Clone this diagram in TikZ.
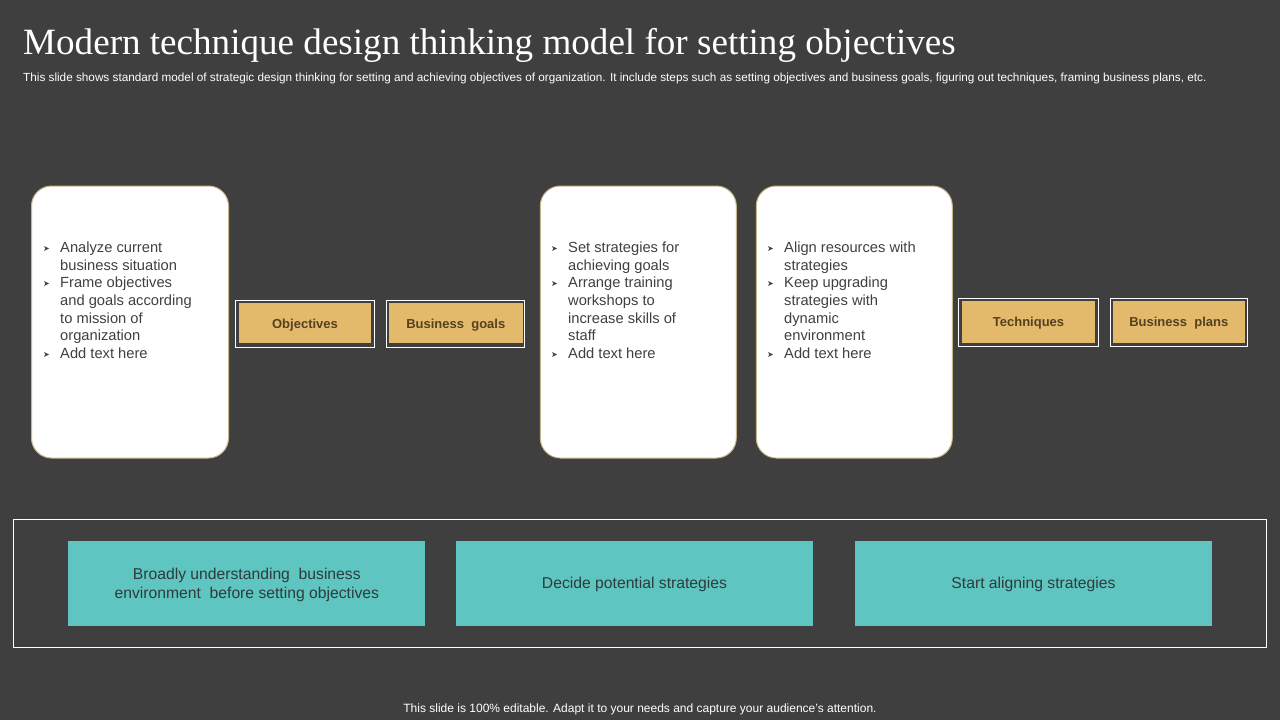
\documentclass[tikz,border=0pt]{standalone}
\usepackage{fontspec}
\setmainfont{Liberation Sans}
\newfontfamily\titlefont{Liberation Serif}
\newfontfamily\symfont{DejaVu Sans}
\definecolor{bg}{HTML}{3F3F3F}
\definecolor{cardedge}{HTML}{C8B68A}
\definecolor{goldfill}{HTML}{E3BA6C}
\definecolor{goldtext}{HTML}{55411F}
\definecolor{tealfill}{HTML}{5FC5C1}
\definecolor{tealtext}{HTML}{2E3B3B}
\definecolor{cardtext}{HTML}{404040}
\newcommand{\bul}{\makebox[17pt][l]{\raisebox{1.2pt}{\symfont\fontsize{8}{8}\selectfont ➤}}}
\newcommand{\ind}{\hspace*{17pt}}
\tikzset{
  card/.style={draw=cardedge, line width=1pt, fill=white, rounded corners=20pt, minimum width=197pt, minimum height=272pt, inner sep=0pt},
  cardtxt/.style={anchor=north west, align=left, inner sep=0pt, text=cardtext, font=\fontsize{14.7}{17.7}\selectfont},
  goldouter/.style={draw=white, line width=1pt, minimum height=47pt, inner sep=0pt},
  goldbox/.style={fill=goldfill, minimum width=132.5pt, minimum height=40pt, inner sep=0pt},
  goldlabel/.style={text=goldtext, font=\bfseries\fontsize{13}{15}\selectfont, inner sep=0pt},
  tealbox/.style={fill=tealfill, minimum width=357pt, minimum height=85pt, inner sep=0pt},
  teallabel/.style={text=tealtext, align=center, font=\fontsize{15.7}{19}\selectfont, inner sep=0pt},
}
\begin{document}
\begin{tikzpicture}[x=1pt,y=-1pt]
\fill[bg] (0,0) rectangle (1280,720);
\useasboundingbox (0,0) rectangle (1280,720);

\node[anchor=base west, inner sep=0pt, text=white, font=\titlefont\fontsize{37.1}{40}\selectfont] (title) at (23,54) {Modern technique design thinking model for setting objectives};
\node[anchor=base west, inner sep=0pt, text=white, font=\fontsize{11.75}{14}\selectfont] (subtitle) at (23,81) {This slide shows standard model of strategic design thinking for setting and achieving objectives of organization. It include steps such as setting objectives and business goals, figuring out techniques, framing business plans, etc.};

% cards
\node[card] (card1) at (130,322) {};
\node[card, minimum width=196pt] (card2) at (638.3,322) {};
\node[card, minimum width=196pt] (card3) at (854.3,322) {};

\node[cardtxt] (txt1) at (43,241.5) {\bul Analyze current\\ \ind business situation\\ \bul Frame objectives\\ \ind and goals according\\ \ind to mission of\\ \ind organization\\ \bul Add text here};
\node[cardtxt] (txt2) at (551,241.5) {\bul Set strategies for\\ \ind achieving goals\\ \bul Arrange training\\ \ind workshops to\\ \ind increase skills of\\ \ind staff\\ \bul Add text here};
\node[cardtxt] (txt3) at (767,241.5) {\bul Align resources with\\ \ind strategies\\ \bul Keep upgrading\\ \ind strategies with\\ \ind dynamic\\ \ind environment\\ \bul Add text here};

% gold tags
\node[goldouter, minimum width=138.5pt] (obj-frame) at (305.2,323.5) {};
\node[goldbox] (objectives) at (304.8,323) {};
\node[goldlabel] (objectives-text) at (305,325) {Objectives};
\node[goldouter, minimum width=138.3pt] (bg-frame) at (455.8,323.5) {};
\node[goldbox, minimum width=133.7pt] (busgoals) at (455.8,323) {};
\node[goldlabel] (busgoals-text) at (455.8,325) {Business~ goals};
\node[goldouter, minimum width=139.7pt, minimum height=47.7pt] (tech-frame) at (1028.8,322.8) {};
\node[goldbox, minimum width=133pt, minimum height=42pt] (techniques) at (1028.5,322) {};
\node[goldlabel] (techniques-text) at (1028.5,323.5) {Techniques};
\node[goldouter, minimum width=137.3pt, minimum height=47.7pt] (bp-frame) at (1179.3,322.8) {};
\node[goldbox, minimum width=132.3pt, minimum height=42pt] (busplans) at (1178.8,322) {};
\node[goldlabel] (busplans-text) at (1178.8,323.5) {Business~ plans};

% bottom frame
\node[draw=white, line width=1pt, minimum width=1253pt, minimum height=128pt, inner sep=0pt] (frame) at (639.9,583.3) {};
\node[tealbox] (teal1) at (246.8,583.5) {};
\node[teallabel] (teal1-text) at (246.8,584.5) {Broadly understanding~ business\\ environment~ before setting objectives};
\node[tealbox] (teal2) at (634.5,583.5) {};
\node[teallabel] (teal2-text) at (634.5,584.5) {Decide potential strategies};
\node[tealbox] (teal3) at (1033.5,583.5) {};
\node[teallabel] (teal3-text) at (1033.5,584.5) {Start aligning strategies};

\node[anchor=base, inner sep=0pt, text=white, font=\fontsize{12}{14}\selectfont] (footer) at (640,712.5) {This slide is 100\% editable. Adapt it to your needs and capture your audience's attention.};
\end{tikzpicture}
\end{document}
